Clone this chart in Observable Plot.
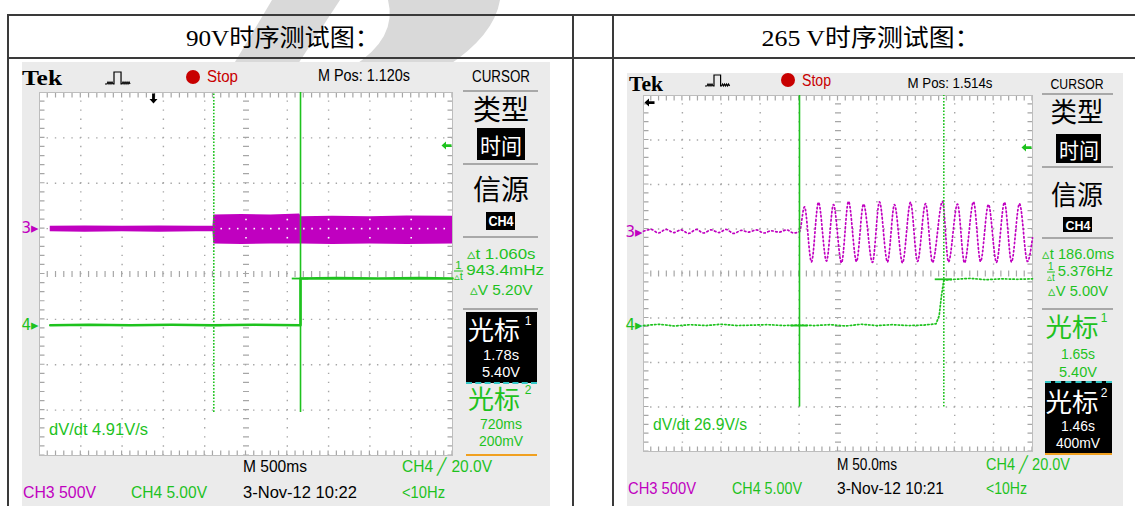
<!DOCTYPE html>
<html><head><meta charset="utf-8">
<script src="https://cdn.jsdelivr.net/npm/d3@7"></script>
<script src="https://cdn.jsdelivr.net/npm/@observablehq/plot@0.6"></script>
<style>
html,body{margin:0;padding:0;background:#fff;}
#page{position:relative;width:1135px;height:506px;overflow:hidden;}
.t{position:absolute;white-space:nowrap;line-height:1;font-family:"Liberation Sans",Arial,sans-serif;}
.box{position:absolute;}
.frac{display:inline-block;vertical-align:middle;text-align:center;font-size:10px;line-height:10px;margin-right:3px;}
.frac span{display:block;}
.frac span:first-child{border-bottom:1px solid currentColor;}
</style></head><body><div id="page"></div>
<script>
// ================= DATA =================
const titles = ["90V时序测试图：", "265 V时序测试图："];

// ---- Left screen (90 V): time 0–5 s (M 500ms/div), vertical in screen divisions (−4…4)
const L_ch3_t  = [0.13, 0.55, 1.00, 1.45, 1.90, 2.10, 2.11, 2.45, 2.80, 3.15, 3.17, 3.55, 4.00, 4.45, 5.00];
const L_ch3_hi = [1.05, 1.06, 1.05, 1.06, 1.05, 1.05, 1.30, 1.31, 1.30, 1.32, 1.26, 1.27, 1.26, 1.28, 1.27];
const L_ch3_lo = [0.93, 0.92, 0.93, 0.92, 0.93, 0.93, 0.66, 0.65, 0.66, 0.66, 0.66, 0.65, 0.66, 0.65, 0.66];
const L_ch4_t  = [0.13, 0.60, 1.10, 1.60, 2.10, 2.60, 3.16, 3.16, 3.60, 4.10, 4.60, 5.00];
const L_ch4_v  = [-1.13, -1.12, -1.13, -1.12, -1.13, -1.12, -1.13, -0.10, -0.09, -0.10, -0.09, -0.10];
const L_cursors = [{t: 2.11, v: -1.13, dotted: true}, {t: 3.16, v: -0.10, dotted: false}];
const L_channels = [{v: 1.0, label: "3▸", ch: "CH3"}, {v: -1.13, label: "4▸", ch: "CH4"}];
const L_trigPos = [1.38], L_trigLevel = [2.83];
const L_top = ["Tek", "Stop", "M Pos: 1.120s", "CURSOR"];
const L_readout = ["▵t 1.060s", "943.4mHz", "▵V 5.20V"];
const L_cur1 = ["1.78s", "5.40V"], L_cur2 = ["720ms", "200mV"];
const L_bottom = ["dV/dt 4.91V/s", "M 500ms", "CH4 ╱ 20.0V", "CH3  500V", "CH4  5.00V", "3-Nov-12 10:22", "<10Hz"];

// ---- Right screen (265 V): time 0–0.5 s (M 50.0ms/div)
const R_ch3_t = [0, 0.010, 0.019, 0.029, 0.039, 0.048, 0.058, 0.068, 0.077, 0.087, 0.097, 0.106, 0.116, 0.126, 0.135, 0.145, 0.155, 0.164, 0.174, 0.184, 0.193, 0.2005,
  0.2069, 0.2159, 0.2249, 0.2352, 0.2442, 0.2545, 0.2635, 0.2738, 0.2828, 0.2943, 0.3033, 0.3136, 0.3226, 0.3329, 0.3432, 0.3522, 0.3625, 0.3715, 0.3843, 0.3920, 0.4036, 0.4126, 0.4242, 0.4332, 0.4434, 0.4537, 0.4640, 0.4730, 0.4833, 0.4936, 0.5];
const R_ch3_v = [0.95, 0.99, 0.91, 0.99, 0.92, 0.98, 0.90, 0.99, 0.91, 0.98, 0.92, 0.99, 0.90, 0.97, 0.93, 0.98, 0.91, 0.96, 0.93, 0.98, 0.91, 0.94,
  1.50, 0.26, 1.60, 0.28, 1.55, 0.24, 1.62, 0.27, 1.56, 0.25, 1.61, 0.26, 1.55, 0.24, 1.60, 0.27, 1.57, 0.25, 1.62, 0.26, 1.56, 0.24, 1.61, 0.27, 1.55, 0.25, 1.60, 0.26, 1.57, 0.27, 0.80];
const R_ch4_t = [0, 0.02, 0.04, 0.06, 0.08, 0.10, 0.12, 0.14, 0.16, 0.18, 0.20, 0.22, 0.24, 0.26, 0.28, 0.30, 0.32, 0.34, 0.36, 0.376, 0.380, 0.383, 0.386, 0.40, 0.42, 0.44, 0.46, 0.48, 0.50];
const R_ch4_v = [-1.17, -1.14, -1.18, -1.15, -1.17, -1.14, -1.17, -1.16, -1.15, -1.17, -1.16, -1.17, -1.15, -1.18, -1.14, -1.17, -1.15, -1.17, -1.16, -1.13, -0.95, -0.50, -0.15, -0.13, -0.11, -0.14, -0.12, -0.13, -0.12];
const R_cursors = [{t: 0.2005, v: -1.17, dotted: false}, {t: 0.386, v: -0.13, dotted: true}];
const R_channels = [{v: 0.92, label: "3▸", ch: "CH3"}, {v: -1.17, label: "4▸", ch: "CH4"}];
const R_trigPos = [3.84], R_trigLevel = [2.83];
const R_top = ["Tek", "Stop", "M Pos: 1.514s", "CURSOR"];
const R_readout = ["▵t 186.0ms", "5.376Hz", "▵V 5.00V"];
const R_cur1 = ["1.65s", "5.40V"], R_cur2 = ["1.46s", "400mV"];
const R_bottom = ["dV/dt 26.9V/s", "M 50.0ms", "CH4 ╱ 20.0V", "CH3  500V", "CH4  5.00V", "3-Nov-12 10:21", "<10Hz"];

// ================= STYLE =================
const G = "#1ec21e", MAG = "#c000c0", GRID = "#a6a6a6", SCOPEBG = "#ebebeb";
const CJK = '"Noto Sans CJK SC",sans-serif';
const chColor = {CH3: MAG, CH4: G};

// arrow symbols for trigger markers (half-size ~5px)
const AR = 5;
const arrowLeft = {draw(ctx) { const s = AR;
  ctx.moveTo(-s, 0); ctx.lineTo(-0.1 * s, -0.8 * s); ctx.lineTo(-0.1 * s, -0.28 * s); ctx.lineTo(s, -0.28 * s);
  ctx.lineTo(s, 0.28 * s); ctx.lineTo(-0.1 * s, 0.28 * s); ctx.lineTo(-0.1 * s, 0.8 * s); ctx.closePath(); }};
const arrowDown = {draw(ctx) { const s = AR;
  ctx.moveTo(0, s); ctx.lineTo(-0.8 * s, 0.1 * s); ctx.lineTo(-0.28 * s, 0.1 * s); ctx.lineTo(-0.28 * s, -s);
  ctx.lineTo(0.28 * s, -s); ctx.lineTo(0.28 * s, 0.1 * s); ctx.lineTo(0.8 * s, 0.1 * s); ctx.closePath(); }};

const page = document.getElementById("page");
function box(x, y, w, h, css) {
  const d = document.createElement("div"); d.className = "box";
  Object.assign(d.style, {left: x + "px", top: y + "px", width: w + "px", height: h + "px"}, css || {});
  page.appendChild(d); return d;
}
function txt(x, y, s, o = {}) {
  const d = document.createElement("div"); d.className = "t";
  if (o.html) d.innerHTML = s; else d.textContent = s;
  Object.assign(d.style, {left: x + "px", top: y + "px", fontSize: (o.fs || 15) + "px", color: o.color || "#000"});
  if (o.font) d.style.fontFamily = o.font;
  if (o.weight) d.style.fontWeight = o.weight;
  page.appendChild(d);
  const w0 = d.getBoundingClientRect().width;
  const sx = o.w ? o.w / w0 : 1;
  const start = o.anchor === "start";
  d.style.transformOrigin = start ? "0 50%" : "50% 50%";
  d.style.transform = `translate(${start ? 0 : -50}%,-50%) scaleX(${sx})`;
  return d;
}
function svgEl(x, y, w, h, inner) {
  const d = document.createElement("div"); d.className = "box";
  Object.assign(d.style, {left: x + "px", top: y + "px", width: w + "px", height: h + "px"});
  d.innerHTML = `<svg width="${w}" height="${h}" viewBox="0 0 ${w} ${h}">${inner}</svg>`;
  page.appendChild(d); return d;
}
const frac = '<span class="frac"><span>1</span><span>▵t</span></span>';

// ================= WATERMARK (under everything) =================
svgEl(0, 0, 1135, 506, `<g fill="#d9d9d9">
  <path d="M272 0 L340 0 L296 67 L232 67 Z"/>
  <path d="M388 0 L500 0 Q494 36 446 67 L352 67 Q398 38 388 0 Z"/></g>`);

// ================= TABLE =================
const LINE = "#3a3a3a";
box(7, 14, 1128, 1.5, {background: LINE});
box(7, 57, 1128, 1.5, {background: LINE});
box(7, 14, 1.5, 492, {background: LINE});
box(572, 14, 1.5, 492, {background: LINE});
box(612, 14, 1.5, 492, {background: LINE});
txt(283, 38, titles[0], {fs: 24, w: 194, font: '"Liberation Serif","Noto Sans CJK SC",serif'});
txt(871, 38, titles[1], {fs: 24, w: 219, font: '"Liberation Serif","Noto Sans CJK SC",serif'});

// ================= SCOPE PLOTS =================
function scope(c) {
  const pw = c.W - c.m.l - c.m.r, ph = c.H - c.m.t - c.m.b;
  const hx = pw / 50, hy = ph / 40, xd = c.xMax / 10;
  const dash = (p, w = 1.4) => ({strokeDasharray: `${w},${p - w}`, strokeDashoffset: w / 2});
  const whiteDots = c.band ? [
    ...d3.range(Math.ceil(c.bandStart / (xd / 5)), 50).map(i => ({x: i * xd / 5, y: 1})),
    ...d3.range(Math.ceil(c.bandStart / xd), 10).flatMap(i => [0.8, 1.2].map(y => ({x: i * xd, y})))
  ] : [];
  const marks = [
    Plot.frame({fill: "#fff", stroke: "none"}),
    Plot.ruleX(d3.range(1, 10).filter(i => i !== 5).map(i => i * xd), {stroke: GRID, strokeWidth: 1.4, ...dash(hy)}),
    Plot.ruleY([-3, -2, -1, 1, 2, 3], {stroke: GRID, strokeWidth: 1.4, ...dash(hx)}),
    Plot.ruleY([0], {stroke: GRID, strokeWidth: 6, ...dash(hx, 1.2)}),
    Plot.ruleX([c.xMax / 2], {stroke: GRID, strokeWidth: 6, ...dash(hy, 1.2)}),
    Plot.ruleY([4], {stroke: GRID, strokeWidth: 5, dy: 2.5, ...dash(hx, 1.2)}),
    Plot.ruleY([-4], {stroke: GRID, strokeWidth: 5, dy: -2.5, ...dash(hx, 1.2)}),
    Plot.ruleX([0], {stroke: GRID, strokeWidth: 5, dx: 2.5, ...dash(hy, 1.2)}),
    Plot.ruleX([c.xMax], {stroke: GRID, strokeWidth: 5, dx: -2.5, ...dash(hy, 1.2)}),
    Plot.frame({stroke: "#bdbdbd"}),
    ...c.traces,
    Plot.dot(whiteDots, {x: "x", y: "y", r: 0.9, fill: "#fff", symbol: "square"}),
    Plot.ruleX(c.cursors.filter(d => d.dotted), {x: "t", y1: c.cursorBottom, y2: 4, stroke: G, strokeWidth: 1.6, strokeDasharray: "1.6,1.6"}),
    Plot.ruleX(c.cursors.filter(d => !d.dotted), {x: "t", y1: c.cursorBottom, y2: 4, stroke: G, strokeWidth: 1.6}),
    Plot.ruleY(c.cursors, {y: "v", x1: d => d.t - c.mk, x2: d => d.t + c.mk, stroke: G, strokeWidth: 1.8}),
    Plot.text(c.channels, {y: "v", text: "label", fill: d => chColor[d.ch], frameAnchor: "left", textAnchor: "end", dx: -1, fontSize: 15}),
    Plot.dot(c.trigLevel, {y: d => d, frameAnchor: "right", dx: -6, r: 5, symbol: arrowLeft, fill: G, stroke: "none"}),
    c.trigPosAxis === "x"
      ? Plot.dot(c.trigPos, {x: d => d, frameAnchor: "top", dy: 6, r: 5, symbol: arrowDown, fill: "#000", stroke: "none"})
      : Plot.dot(c.trigPos, {y: d => d, frameAnchor: "left", dx: 6, r: 5, symbol: arrowLeft, fill: "#000", stroke: "none"})
  ];
  const svg = Plot.plot({
    width: c.W, height: c.H,
    marginTop: c.m.t, marginRight: c.m.r, marginBottom: c.m.b, marginLeft: c.m.l,
    x: {domain: [0, c.xMax], axis: null},
    y: {domain: [-4, 4], axis: null},
    style: {background: "transparent", overflow: "visible", fontFamily: "DejaVu Sans, sans-serif"},
    marks
  });
  const holder = document.createElement("div"); holder.className = "box";
  Object.assign(holder.style, {left: c.x + "px", top: c.y + "px", width: c.W + "px", height: c.H + "px", background: SCOPEBG});
  holder.appendChild(svg); page.appendChild(holder);
}

const L_band = L_ch3_t.map((t, i) => ({t, lo: L_ch3_lo[i], hi: L_ch3_hi[i]}));
const L_ch4 = L_ch4_t.map((t, i) => ({t, v: L_ch4_v[i]}));
scope({
  x: 22, y: 62, W: 528, H: 444, m: {t: 30, r: 98, b: 51, l: 17}, xMax: 5,
  band: true, bandStart: 2.11, cursorBottom: -3.05, mk: 0.1,
  cursors: L_cursors, channels: L_channels, trigLevel: L_trigLevel, trigPos: L_trigPos, trigPosAxis: "x",
  traces: [
    Plot.areaY(L_band, {x: "t", y1: "lo", y2: "hi", fill: MAG}),
    Plot.line(L_ch4, {x: "t", y: "v", stroke: G, strokeWidth: 2.6})
  ]
});

const R_ch3 = R_ch3_t.map((t, i) => ({t, v: R_ch3_v[i]}));
const R_ch4 = R_ch4_t.map((t, i) => ({t, v: R_ch4_v[i]}));
scope({
  x: 627, y: 73, W: 496, H: 433, m: {t: 22, r: 91, b: 55, l: 16}, xMax: 0.5,
  band: false, cursorBottom: -3.0, mk: 0.011,
  cursors: R_cursors, channels: R_channels, trigLevel: R_trigLevel, trigPos: R_trigPos, trigPosAxis: "y",
  traces: [
    Plot.line(R_ch3, {x: "t", y: "v", stroke: MAG, strokeWidth: 1.7, strokeDasharray: "1.5,2.6", curve: "monotone-x"}),
    Plot.line(R_ch4, {x: "t", y: "v", stroke: G, strokeWidth: 1.7, strokeDasharray: "1.5,2.2"})
  ]
});

// ================= SCOPE DECORATIONS & READOUTS =================
const pulse = (w, h) => `<path d="M0 ${h-2} h2 l1 -2 l1 2 l1 -2 l1 2 l1 -2 l1 2 h1 V2 h${w*0.22} V${h-2} h1 l1 -2 l1 2 l1 -2 l1 2 l1 -2 l1 2 l1 -2 l1 2" fill="none" stroke="#000" stroke-width="1.2"/>`;

// Left top bar
txt(22, 78, L_top[0], {anchor: "start", fs: 22, w: 40, weight: "bold", font: '"Liberation Serif",serif'});
svgEl(105, 70, 32, 16, pulse(32, 16));
box(186, 70, 14, 14, {background: "#c80000", borderRadius: "50%"});
txt(207, 77, L_top[1], {anchor: "start", fs: 16, w: 31, color: "#c80000"});
txt(364, 76, L_top[2], {fs: 16, w: 92});
txt(501, 77, L_top[3], {fs: 16, w: 58});

// Left side panel
[91, 164, 237, 309].forEach(y => box(463, y - 1, 75, 2, {background: "#a8a8a8"}));
txt(501, 108, "类型", {fs: 28, w: 56, font: CJK});
box(477, 128, 48, 32, {background: "#000"}); txt(501, 144, "时间", {fs: 22, w: 42, color: "#fff", font: CJK});
txt(501, 188, "信源", {fs: 28, w: 56, font: CJK});
box(486, 212, 29, 18, {background: "#000"}); txt(500.5, 221, "CH4", {fs: 14, w: 25, color: "#fff", weight: "bold"});
txt(501, 253, L_readout[0], {fs: 15, w: 69, color: G});
txt(499, 271, frac + L_readout[1], {html: true, fs: 15, w: 90, color: G});
txt(501, 289, L_readout[2], {fs: 15, w: 63, color: G});
box(466, 312, 71, 71, {background: "#000"});
txt(494, 329, "光标", {fs: 26, w: 52, color: "#fff", font: CJK}); txt(528, 321, "1", {fs: 12, color: "#fff"});
txt(501, 355, L_cur1[0], {fs: 14, w: 36, color: "#fff"}); txt(501, 372, L_cur1[1], {fs: 14, w: 38, color: "#fff"});
box(466, 382, 71, 0, {borderTop: "2px dashed #33c6c6"});
txt(494, 398, "光标", {fs: 26, w: 52, color: G, font: CJK}); txt(528, 390, "2", {fs: 12, color: G});
txt(501, 424, L_cur2[0], {fs: 14, w: 42, color: G}); txt(501, 441, L_cur2[1], {fs: 14, w: 44, color: G});
box(466, 454, 71, 2, {background: "#f0a020"});

// Left bottom
txt(49, 430, L_bottom[0], {anchor: "start", fs: 16, w: 99, color: G});
txt(243, 467, L_bottom[1], {anchor: "start", fs: 16, w: 64});
txt(402, 467, L_bottom[2], {anchor: "start", fs: 16, w: 90, color: G});
txt(23, 493, L_bottom[3], {anchor: "start", fs: 16, w: 73, color: MAG});
txt(131, 493, L_bottom[4], {anchor: "start", fs: 16, w: 76, color: G});
txt(243, 493, L_bottom[5], {anchor: "start", fs: 16, w: 114});
txt(402, 493, L_bottom[6], {anchor: "start", fs: 16, w: 43, color: G});

// Right top bar
txt(629, 84, R_top[0], {anchor: "start", fs: 20, w: 34, weight: "bold", font: '"Liberation Serif",serif'});
svgEl(705, 73, 30, 15, pulse(30, 15));
box(781, 73, 14, 14, {background: "#c80000", borderRadius: "50%"});
txt(802, 81, R_top[1], {anchor: "start", fs: 16, w: 29, color: "#c80000"});
txt(950, 82, R_top[2], {fs: 15, w: 85});
txt(1077, 83, R_top[3], {fs: 15, w: 53});

// Right side panel
[94, 167, 238, 309].forEach(y => box(1042, y - 1, 71, 2, {background: "#a8a8a8"}));
txt(1077, 110, "类型", {fs: 27, w: 53, font: CJK});
box(1056, 134, 45, 29, {background: "#000"}); txt(1078.5, 148.5, "时间", {fs: 21, w: 40, color: "#fff", font: CJK});
txt(1077, 193, "信源", {fs: 27, w: 52, font: CJK});
box(1063, 217, 29, 15, {background: "#000"}); txt(1077.5, 224.5, "CH4", {fs: 13, w: 25, color: "#fff", weight: "bold"});
txt(1078, 253, R_readout[0], {fs: 15, w: 72, color: G});
txt(1080, 272, frac + R_readout[1], {html: true, fs: 15, w: 66, color: G});
txt(1078, 290, R_readout[2], {fs: 15, w: 60, color: G});
txt(1072, 326, "光标", {fs: 26, w: 53, color: G, font: CJK}); txt(1104, 318, "1", {fs: 12, color: G});
txt(1078, 354, R_cur1[0], {fs: 14, w: 34, color: G}); txt(1078, 372, R_cur1[1], {fs: 14, w: 38, color: G});
box(1045, 381, 67, 72, {background: "#000"});
box(1045, 381, 67, 0, {borderTop: "2px dashed #33c6c6"});
txt(1072, 401, "光标", {fs: 26, w: 53, color: "#fff", font: CJK}); txt(1104, 393, "2", {fs: 12, color: "#fff"});
txt(1078, 426, R_cur2[0], {fs: 14, w: 34, color: "#fff"}); txt(1078, 443, R_cur2[1], {fs: 14, w: 44, color: "#fff"});
box(1045, 453, 67, 2, {background: "#f0a020"});

// Right bottom
txt(653, 425, R_bottom[0], {anchor: "start", fs: 16, w: 94, color: G});
txt(837, 465, R_bottom[1], {anchor: "start", fs: 16, w: 60});
txt(986, 465, R_bottom[2], {anchor: "start", fs: 16, w: 84, color: G});
txt(628, 489, R_bottom[3], {anchor: "start", fs: 16, w: 68, color: MAG});
txt(732, 489, R_bottom[4], {anchor: "start", fs: 16, w: 70, color: G});
txt(837, 489, R_bottom[5], {anchor: "start", fs: 16, w: 107});
txt(986, 489, R_bottom[6], {anchor: "start", fs: 16, w: 41, color: G});
</script></body></html>
